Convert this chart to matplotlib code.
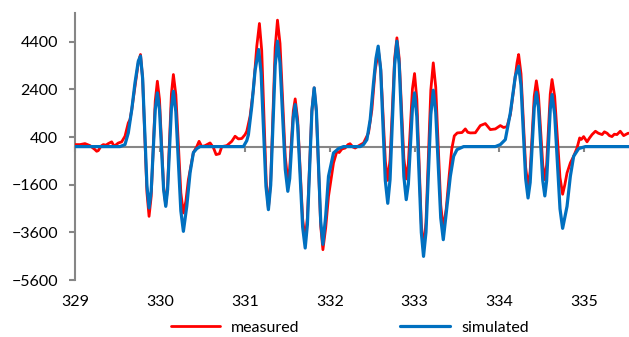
import matplotlib
matplotlib.use("Agg")
import matplotlib.pyplot as plt

# field (mT) and signal
meas_x = [329.000, 329.053, 329.112, 329.171, 329.230, 329.250, 329.269, 329.301, 329.328, 329.360,
          329.387, 329.427, 329.449, 329.466, 329.505, 329.545, 329.584, 329.623, 329.643, 329.664,
          329.702, 329.741, 329.767, 329.792, 329.818, 329.843, 329.868, 329.893, 329.917, 329.941,
          329.966, 329.991, 330.015, 330.040, 330.065, 330.087, 330.110, 330.132, 330.155, 330.184,
          330.214, 330.243, 330.273, 330.302, 330.332, 330.391, 330.431, 330.458, 330.490, 330.529,
          330.588, 330.627, 330.659, 330.698, 330.726, 330.785, 330.844, 330.883, 330.922, 330.962,
          331.001, 331.021, 331.060, 331.099, 331.139, 331.170, 331.197, 331.223, 331.250, 331.276,
          331.303, 331.329, 331.356, 331.383, 331.413, 331.444, 331.475, 331.505, 331.527, 331.548,
          331.570, 331.592, 331.621, 331.651, 331.680, 331.710, 331.736, 331.763, 331.789, 331.816,
          331.842, 331.867, 331.893, 331.919, 331.952, 331.985, 332.044, 332.084, 332.111, 332.143,
          332.182, 332.215, 332.239, 332.274, 332.300, 332.339, 332.398, 332.457, 332.497, 332.536,
          332.575, 332.602, 332.629, 332.656, 332.684, 332.711, 332.738, 332.765, 332.792, 332.819,
          332.847, 332.874, 332.902, 332.927, 332.951, 332.975, 333.000, 333.027, 333.053, 333.080,
          333.106, 333.135, 333.164, 333.192, 333.221, 333.250, 333.280, 333.309, 333.339, 333.374,
          333.409, 333.439, 333.469, 333.504, 333.560, 333.599, 333.628, 333.658, 333.717, 333.776,
          333.835, 333.894, 333.953, 334.012, 334.051, 334.091, 334.130, 334.169, 334.209, 334.228,
          334.256, 334.283, 334.311, 334.339, 334.364, 334.388, 334.412, 334.437, 334.462, 334.487,
          334.513, 334.537, 334.558, 334.580, 334.601, 334.622, 334.653, 334.685, 334.716, 334.747,
          334.773, 334.799, 334.838, 334.877, 334.917, 334.948, 334.968, 334.995, 335.035, 335.062,
          335.094, 335.134, 335.169, 335.213, 335.240, 335.272, 335.299, 335.329, 335.357, 335.388,
          335.427, 335.467, 335.519, 335.550]
meas_y = [84, 84, 126, 42, -126, -196, -168, 20, 84, 60,
          126, 200, 60, 42, 150, 200, 434, 994, 1134, 1554,
          2534, 3514, 3864, 2873, 469, -1936, -2927, -2099, -92, 1915,
          2743, 1983, 142, -1700, -2460, -1659, 282, 2223, 3024, 2176,
          119, -1938, -2786, -2300, -1386, -252, 0, 222, 0, 40,
          154, -42, -336, -300, 0, 40, 222, 434, 322, 340,
          504, 644, 1274, 2394, 4214, 5166, 4032, 1283, -1466, -2600,
          -1446, 1353, 4152, 5306, 4325, 1946, -433, -1414, -915, 294,
          1503, 2002, 1139, -952, -3043, -3906, -2976, -721, 1534, 2464,
          1473, -931, -3335, -4326, -3400, -2086, -686, -196, -250, -100,
          -60, 84, 120, -20, -60, 30, 150, 574, 1554, 3234,
          4000, 3209, 1290, -629, -1420, -546, 1572, 3690, 4564, 3699,
          1603, -493, -1358, -712, 854, 2420, 3066, 1987, -630, -3247,
          -4326, -3181, -406, 2369, 3514, 2496, 27, -2442, -3460, -2600,
          -1200, -100, 450, 574, 590, 742, 600, 574, 580, 882,
          966, 714, 740, 882, 800, 840, 1344, 2394, 3514, 3864,
          3055, 1092, -871, -1680, -1032, 540, 2112, 2760, 2154, 685,
          -784, -1390, -776, 712, 2200, 2814, 2111, 407, -1297, -2000,
          -1600, -1106, -686, -406, -56, 364, 300, 420, 200, 350,
          504, 644, 560, 504, 620, 560, 460, 420, 520, 504,
          644, 460, 560, 560]

sim_x = [329.000, 329.525, 329.584, 329.623, 329.664, 329.702, 329.741, 329.767, 329.792, 329.818,
         329.843, 329.868, 329.893, 329.917, 329.941, 329.966, 329.991, 330.015, 330.040, 330.065,
         330.087, 330.110, 330.132, 330.155, 330.184, 330.214, 330.243, 330.273, 330.313, 330.352,
         330.391, 330.431, 330.470, 330.981, 331.021, 331.040, 331.080, 331.119, 331.161, 331.190,
         331.218, 331.247, 331.276, 331.303, 331.329, 331.356, 331.383, 331.413, 331.444, 331.475,
         331.505, 331.527, 331.548, 331.570, 331.592, 331.621, 331.651, 331.680, 331.710, 331.736,
         331.763, 331.789, 331.816, 331.842, 331.867, 331.893, 331.919, 331.952, 331.985, 332.044,
         332.103, 332.162, 332.359, 332.398, 332.438, 332.477, 332.516, 332.545, 332.571, 332.600,
         332.627, 332.655, 332.684, 332.711, 332.738, 332.765, 332.792, 332.819, 332.847, 332.874,
         332.902, 332.927, 332.951, 332.975, 333.000, 333.027, 333.053, 333.080, 333.106, 333.135,
         333.164, 333.192, 333.221, 333.250, 333.280, 333.309, 333.339, 333.380, 333.422, 333.461,
         333.501, 333.579, 333.953, 334.012, 334.071, 334.130, 334.189, 334.228, 334.256, 334.283,
         334.311, 334.339, 334.364, 334.388, 334.412, 334.437, 334.462, 334.487, 334.513, 334.537,
         334.558, 334.580, 334.601, 334.622, 334.653, 334.685, 334.716, 334.747, 334.799, 334.838,
         334.877, 334.936, 335.015, 335.550]
sim_y = [0, 0, 84, 574, 1554, 2674, 3584, 3800, 2869, 612,
         -1644, -2575, -1870, -160, 1549, 2254, 1559, -126, -1812, -2507,
         -1802, -92, 1618, 2323, 1465, -617, -2698, -3556, -2500, -1092,
         -252, -84, 0, 0, 250, 500, 1700, 3200, 4074, 3093,
         714, -1665, -2646, -1614, 889, 3392, 4424, 3504, 1274, -956,
         -1876, -1345, -56, 1233, 1764, 885, -1246, -3377, -4256, -3275,
         -896, 1483, 2464, 1506, -818, -3142, -4100, -2900, -1246, -266,
         -84, 0, 0, 84, 294, 1134, 2674, 3700, 4214, 3251,
         917, -1417, -2380, -1387, 1022, 3431, 4424, 3453, 1099, -1255,
         -2226, -1572, 14, 1600, 2254, 1252, -1176, -3604, -4606, -3588,
         -1120, 1348, 2366, 1450, -770, -2990, -3906, -2600, -1246, -406,
         -126, 0, 0, 84, 294, 1414, 2954, 3374, 2567, 609,
         -1349, -2156, -1508, 63, 1634, 2282, 1647, 106, -1435, -2070,
         -1449, 57, 1563, 2184, 1364, -623, -2610, -3430, -2506, -1246,
         -406, -84, 0, 0]

x_ticks = [329, 330, 331, 332, 333, 334, 335]
y_ticks = [-5600, -3600, -1600, 400, 2400, 4400]

plt.rcParams['font.family'] = ['Lato', 'DejaVu Sans']
plt.rcParams['font.size'] = 11.5

AXIS_GREY = '#868686'
fig = plt.figure(figsize=(6.29, 3.37), dpi=100)
ax = fig.add_axes([0.12, 0.169, 0.88, 0.792])

ax.plot(meas_x, meas_y, color='#ff0000', lw=2.0, zorder=3, label='measured',
        solid_joinstyle='round', solid_capstyle='round')
ax.plot(sim_x, sim_y, color='#0070c0', lw=2.3, zorder=4, label='simulated',
        solid_joinstyle='round', solid_capstyle='round')

ax.set_xlim(329, 335.53)
ax.set_ylim(-5600, 5600)
ax.set_yticks(y_ticks)
ax.set_xticks(x_ticks)

ax.spines['top'].set_visible(False)
ax.spines['right'].set_visible(False)
ax.spines['left'].set_color(AXIS_GREY)
ax.spines['left'].set_linewidth(1.5)
ax.spines['bottom'].set_position(('data', 0))
ax.spines['bottom'].set_color(AXIS_GREY)
ax.spines['bottom'].set_linewidth(1.5)

ax.tick_params(axis='y', direction='out', length=4.5, width=1.5, color=AXIS_GREY,
               pad=8, labelcolor='black')
ax.tick_params(axis='x', direction='out', length=3.5, width=1.5, color=AXIS_GREY,
               labelbottom=False)

# x labels sit at the bottom of the plot, Excel style
sec = ax.secondary_xaxis('bottom')
sec.set_xticks(x_ticks)
sec.spines['bottom'].set_visible(False)
sec.tick_params(length=0, pad=11)

fig.legend(loc='center', bbox_to_anchor=(0.556, 0.027), ncol=2, frameon=False,
           handlelength=3.1, handletextpad=0.7, columnspacing=6.3)

plt.savefig('out.png', dpi=100)
